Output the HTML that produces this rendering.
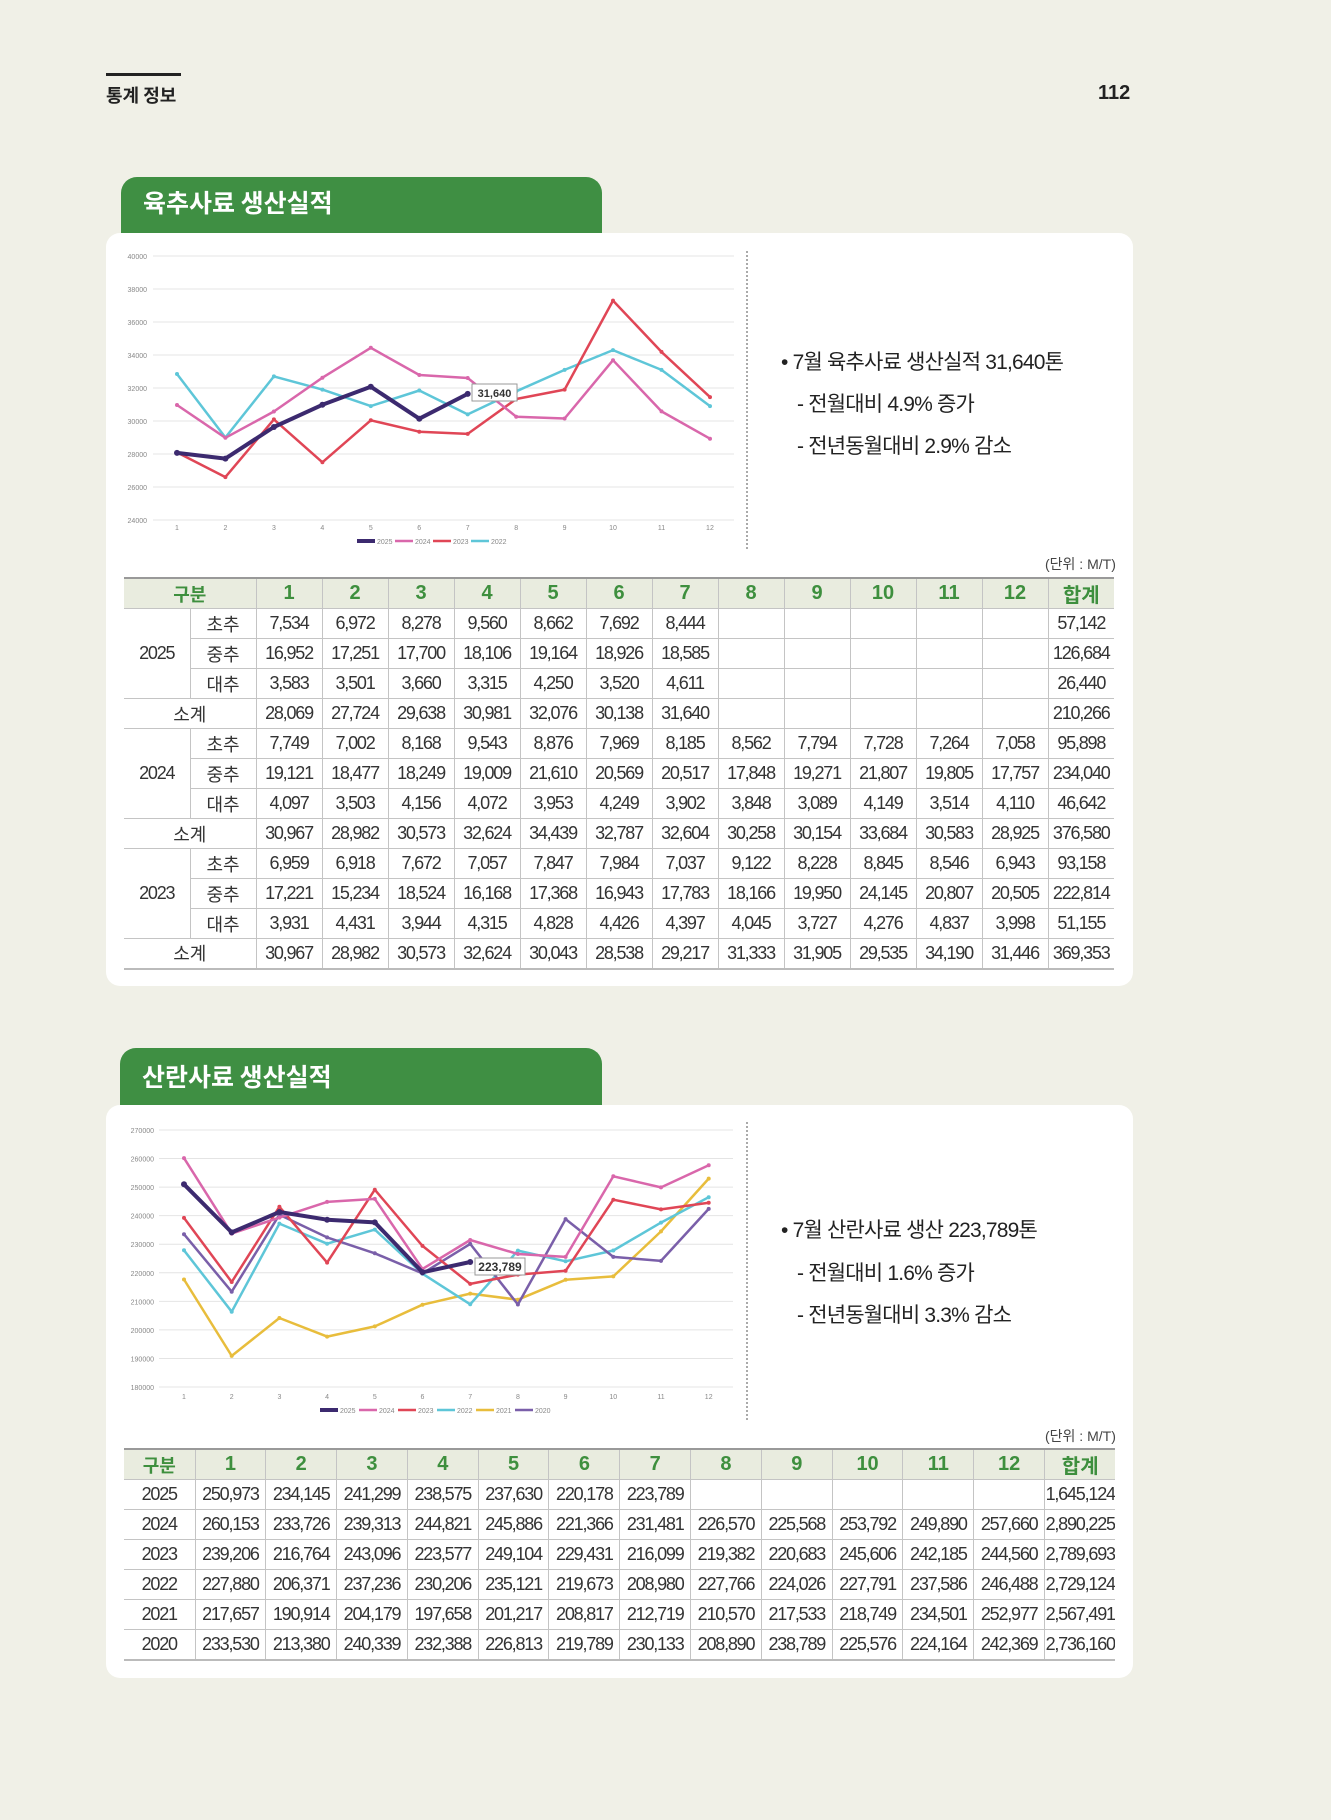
<!DOCTYPE html>
<html><head><meta charset="utf-8">
<style>
*{margin:0;padding:0;box-sizing:border-box}
body{width:1331px;height:1820px;background:#f0f0e7;position:relative;font-family:"Liberation Sans","Noto Sans CJK KR",sans-serif;overflow:hidden}
.abs{position:absolute}
.tab{position:absolute;background:#3f8f43;border-radius:16px 16px 0 0;color:#fff;font-weight:bold;font-size:25px;padding-left:22px;font-family:"Noto Sans CJK KR",sans-serif}
.card{position:absolute;background:#fff;border-radius:14px;left:106px;width:1027px}
table{position:absolute;border-collapse:collapse;table-layout:fixed;font-family:"Liberation Sans Narrow","Liberation Sans","Noto Sans CJK KR",sans-serif;font-size:18px;color:#333;letter-spacing:-1.2px}
td,th{border:1px solid #c4c4c4;text-align:center;height:30px;padding:0;white-space:nowrap;overflow:hidden}
th{background:#e9ecdf;color:#3e8f3e;font-weight:bold;font-size:20px;letter-spacing:0;font-family:"Liberation Sans","Noto Sans CJK KR",sans-serif;border-top:2px solid #999}
tr td:first-child, tr th:first-child{border-left:none}
tr td:last-child, tr th:last-child{border-right:none}
tr:last-child td{border-bottom:2px solid #bbb}
.k{font-family:"Noto Sans CJK KR",sans-serif;font-size:18px;letter-spacing:0}
.bul{position:absolute;font-family:"Liberation Sans","Noto Sans CJK KR",sans-serif;font-size:21px;color:#222;letter-spacing:-0.8px}
.unit{position:absolute;font-size:14px;color:#444;font-family:"Liberation Sans","Noto Sans CJK KR",sans-serif}
</style></head><body>
<div class="abs" style="left:106px;top:73px;width:75px;height:3px;background:#222"></div>
<div class="abs" style="left:106px;top:82px;font-size:18px;font-weight:bold;font-family:'Noto Sans CJK KR',sans-serif;color:#222">통계 정보</div>
<div class="abs" style="left:1098px;top:82px;font-size:20px;font-weight:bold;color:#222">112</div>

<div class="tab" style="left:121px;top:177px;width:481px;height:60px;line-height:50px">육추사료 생산실적</div>
<div class="card" style="top:233px;height:753px"></div>
<div class="tab" style="left:120px;top:1048px;width:482px;height:62px;line-height:56px">산란사료 생산실적</div>
<div class="card" style="top:1105px;height:573px"></div>

<svg id="s" class="abs" style="left:0;top:0" width="1331" height="1820"></svg>

<div class="bul" style="left:781px;top:346px">• 7월 육추사료 생산실적 31,640톤</div>
<div class="bul" style="left:797px;top:388px">- 전월대비 4.9% 증가</div>
<div class="bul" style="left:797px;top:430px">- 전년동월대비 2.9% 감소</div>
<div class="unit" style="left:1045px;top:554px">(단위 : M/T)</div>

<div class="bul" style="left:781px;top:1214px">• 7월 산란사료 생산 223,789톤</div>
<div class="bul" style="left:797px;top:1257px">- 전월대비 1.6% 증가</div>
<div class="bul" style="left:797px;top:1299px">- 전년동월대비 3.3% 감소</div>
<div class="unit" style="left:1045px;top:1426px">(단위 : M/T)</div>

<table style="left:124px;top:577px;width:990px">
<colgroup><col style="width:66px"><col style="width:66px"><col span="13" style="width:66px"></colgroup>
<tr><th colspan="2" class="k">구분</th><th>1</th><th>2</th><th>3</th><th>4</th><th>5</th><th>6</th><th>7</th><th>8</th><th>9</th><th>10</th><th>11</th><th>12</th><th>합계</th></tr>
<tr><td rowspan="3">2025</td><td class="k">초추</td><td>7,534</td><td>6,972</td><td>8,278</td><td>9,560</td><td>8,662</td><td>7,692</td><td>8,444</td><td></td><td></td><td></td><td></td><td></td><td>57,142</td></tr>
<tr><td class="k">중추</td><td>16,952</td><td>17,251</td><td>17,700</td><td>18,106</td><td>19,164</td><td>18,926</td><td>18,585</td><td></td><td></td><td></td><td></td><td></td><td>126,684</td></tr>
<tr><td class="k">대추</td><td>3,583</td><td>3,501</td><td>3,660</td><td>3,315</td><td>4,250</td><td>3,520</td><td>4,611</td><td></td><td></td><td></td><td></td><td></td><td>26,440</td></tr>
<tr><td colspan="2" class="k">소계</td><td>28,069</td><td>27,724</td><td>29,638</td><td>30,981</td><td>32,076</td><td>30,138</td><td>31,640</td><td></td><td></td><td></td><td></td><td></td><td>210,266</td></tr>
<tr><td rowspan="3">2024</td><td class="k">초추</td><td>7,749</td><td>7,002</td><td>8,168</td><td>9,543</td><td>8,876</td><td>7,969</td><td>8,185</td><td>8,562</td><td>7,794</td><td>7,728</td><td>7,264</td><td>7,058</td><td>95,898</td></tr>
<tr><td class="k">중추</td><td>19,121</td><td>18,477</td><td>18,249</td><td>19,009</td><td>21,610</td><td>20,569</td><td>20,517</td><td>17,848</td><td>19,271</td><td>21,807</td><td>19,805</td><td>17,757</td><td>234,040</td></tr>
<tr><td class="k">대추</td><td>4,097</td><td>3,503</td><td>4,156</td><td>4,072</td><td>3,953</td><td>4,249</td><td>3,902</td><td>3,848</td><td>3,089</td><td>4,149</td><td>3,514</td><td>4,110</td><td>46,642</td></tr>
<tr><td colspan="2" class="k">소계</td><td>30,967</td><td>28,982</td><td>30,573</td><td>32,624</td><td>34,439</td><td>32,787</td><td>32,604</td><td>30,258</td><td>30,154</td><td>33,684</td><td>30,583</td><td>28,925</td><td>376,580</td></tr>
<tr><td rowspan="3">2023</td><td class="k">초추</td><td>6,959</td><td>6,918</td><td>7,672</td><td>7,057</td><td>7,847</td><td>7,984</td><td>7,037</td><td>9,122</td><td>8,228</td><td>8,845</td><td>8,546</td><td>6,943</td><td>93,158</td></tr>
<tr><td class="k">중추</td><td>17,221</td><td>15,234</td><td>18,524</td><td>16,168</td><td>17,368</td><td>16,943</td><td>17,783</td><td>18,166</td><td>19,950</td><td>24,145</td><td>20,807</td><td>20,505</td><td>222,814</td></tr>
<tr><td class="k">대추</td><td>3,931</td><td>4,431</td><td>3,944</td><td>4,315</td><td>4,828</td><td>4,426</td><td>4,397</td><td>4,045</td><td>3,727</td><td>4,276</td><td>4,837</td><td>3,998</td><td>51,155</td></tr>
<tr><td colspan="2" class="k">소계</td><td>30,967</td><td>28,982</td><td>30,573</td><td>32,624</td><td>30,043</td><td>28,538</td><td>29,217</td><td>31,333</td><td>31,905</td><td>29,535</td><td>34,190</td><td>31,446</td><td>369,353</td></tr>
</table>

<table style="left:124px;top:1448px;width:991px">
<colgroup><col style="width:71px"><col span="13" style="width:70.8px"></colgroup>
<tr><th class="k">구분</th><th>1</th><th>2</th><th>3</th><th>4</th><th>5</th><th>6</th><th>7</th><th>8</th><th>9</th><th>10</th><th>11</th><th>12</th><th>합계</th></tr>
<tr><td>2025</td><td>250,973</td><td>234,145</td><td>241,299</td><td>238,575</td><td>237,630</td><td>220,178</td><td>223,789</td><td></td><td></td><td></td><td></td><td></td><td>1,645,124</td></tr>
<tr><td>2024</td><td>260,153</td><td>233,726</td><td>239,313</td><td>244,821</td><td>245,886</td><td>221,366</td><td>231,481</td><td>226,570</td><td>225,568</td><td>253,792</td><td>249,890</td><td>257,660</td><td>2,890,225</td></tr>
<tr><td>2023</td><td>239,206</td><td>216,764</td><td>243,096</td><td>223,577</td><td>249,104</td><td>229,431</td><td>216,099</td><td>219,382</td><td>220,683</td><td>245,606</td><td>242,185</td><td>244,560</td><td>2,789,693</td></tr>
<tr><td>2022</td><td>227,880</td><td>206,371</td><td>237,236</td><td>230,206</td><td>235,121</td><td>219,673</td><td>208,980</td><td>227,766</td><td>224,026</td><td>227,791</td><td>237,586</td><td>246,488</td><td>2,729,124</td></tr>
<tr><td>2021</td><td>217,657</td><td>190,914</td><td>204,179</td><td>197,658</td><td>201,217</td><td>208,817</td><td>212,719</td><td>210,570</td><td>217,533</td><td>218,749</td><td>234,501</td><td>252,977</td><td>2,567,491</td></tr>
<tr><td>2020</td><td>233,530</td><td>213,380</td><td>240,339</td><td>232,388</td><td>226,813</td><td>219,789</td><td>230,133</td><td>208,890</td><td>238,789</td><td>225,576</td><td>224,164</td><td>242,369</td><td>2,736,160</td></tr>
</table>

<script>
var s=document.getElementById('s'),h='';
function L(x1,y1,x2,y2,c,w,d){h+='<line x1="'+x1+'" y1="'+y1+'" x2="'+x2+'" y2="'+y2+'" stroke="'+c+'" stroke-width="'+w+'"'+(d?' stroke-dasharray="'+d+'"':'')+'/>';}
function T(x,y,t,sz,a,c,fw){h+='<text x="'+x+'" y="'+y+'" font-size="'+sz+'" text-anchor="'+(a||'middle')+'" fill="'+(c||'#888')+'" font-family="Liberation Sans,sans-serif"'+(fw?' font-weight="bold"':'')+'>'+t+'</text>';}
function chart(o){
  for(var i=0;i<=o.n;i++){var v=o.max-i*o.step,y=o.top+i*o.gap;L(o.gx1,y,o.gx2,y,'#e4e4e4',1);T(o.lx,y+3,v,7,'end');}
  for(var m=0;m<12;m++)T(o.x0+m*o.dx,o.xly,m+1,7);
  L(747,o.dy1,747,o.dy2,'#555',1,'2,2');
  o.series.forEach(function(se){var p=[];se.d.forEach(function(v,i){var x=o.x0+i*o.dx,y=o.top+(o.max-v)/o.step*o.gap;p.push(x.toFixed(1)+','+y.toFixed(1));});
    h+='<polyline points="'+p.join(' ')+'" fill="none" stroke="'+se.c+'" stroke-width="'+se.w+'" stroke-linejoin="round"/>';
    p.forEach(function(q){var a=q.split(',');h+='<circle cx="'+a[0]+'" cy="'+a[1]+'" r="'+(se.w>3?3:2)+'" fill="'+se.c+'"/>';});});
  h+='<rect x="'+o.bx+'" y="'+(o.by-12)+'" width="'+o.bw+'" height="17" fill="#fff" stroke="#999" stroke-width="1"/>';T(o.bx+o.bw/2,o.by+1,o.bt,o.bs,'middle','#333',1);
}
chart({max:40000,step:2000,n:8,top:256,gap:33,gx1:153,gx2:734,lx:147,x0:177,dx:48.45,xly:530,dy1:251,dy2:549,bx:472,by:396,bw:45,bt:'31,640',bs:11,
series:[
{n:2022,c:'#5ec6d8',w:2.5,d:[32850,29000,32700,31900,30900,31850,30400,31800,33100,34300,33100,30900]},
{n:2023,c:'#e04656',w:2.5,d:[28100,26600,30100,27500,30043,29350,29217,31333,31905,37300,34190,31446]},
{n:2024,c:'#d967ab',w:2.5,d:[30967,28982,30573,32624,34439,32787,32604,30258,30154,33684,30583,28925]},
{n:2025,c:'#3c2a6f',w:4,d:[28069,27724,29638,30981,32076,30138,31640]}]});
var lg=[['2025','#3c2a6f',4],['2024','#d967ab',2.5],['2023','#e04656',2.5],['2022','#5ec6d8',2.5]];
lg.forEach(function(g,i){var lx=357+i*38;L(lx,541,lx+18,541,g[1],g[2]);T(lx+20,544,g[0],7,'start');});
chart({max:270000,step:10000,n:9,top:1130,gap:28.56,gx1:159,gx2:733,lx:154,x0:184,dx:47.7,xly:1399,dy1:1122,dy2:1420,bx:475,by:1270,bw:50,bt:'223,789',bs:12,
series:[
{n:2021,c:'#e8bd3c',w:2.5,d:[217657,190914,204179,197658,201217,208817,212719,210570,217533,218749,234501,252977]},
{n:2022,c:'#5ec6d8',w:2.5,d:[227880,206371,237236,230206,235121,219673,208980,227766,224026,227791,237586,246488]},
{n:2020,c:'#7a5fa9',w:2.5,d:[233530,213380,240339,232388,226813,219789,230133,208890,238789,225576,224164,242369]},
{n:2023,c:'#e04656',w:2.5,d:[239206,216764,243096,223577,249104,229431,216099,219382,220683,245606,242185,244560]},
{n:2024,c:'#d967ab',w:2.5,d:[260153,233726,239313,244821,245886,221366,231481,226570,225568,253792,249890,257660]},
{n:2025,c:'#3c2a6f',w:4,d:[250973,234145,241299,238575,237630,220178,223789]}]});
var lg2=[['2025','#3c2a6f',4],['2024','#d967ab',2.5],['2023','#e04656',2.5],['2022','#5ec6d8',2.5],['2021','#e8bd3c',2.5],['2020','#7a5fa9',2.5]];
lg2.forEach(function(g,i){var lx=320+i*39;L(lx,1410,lx+18,1410,g[1],g[2]);T(lx+20,1413,g[0],7,'start');});
s.innerHTML=h;
</script>
</body></html>
